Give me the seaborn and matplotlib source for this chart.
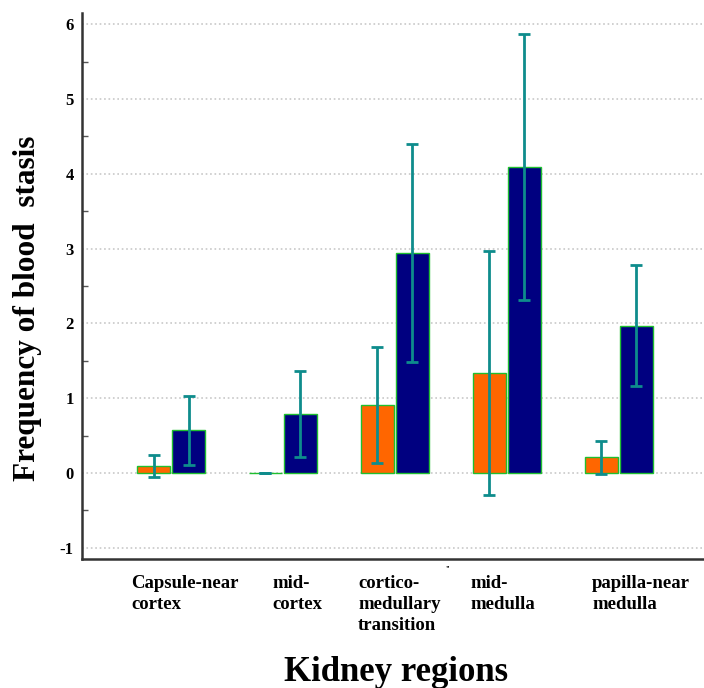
import numpy as np
import pandas as pd
import matplotlib.pyplot as plt
import seaborn as sns

# kidney regions (x categories) and tick label text
regions = ["Capsule-near cortex", "mid-cortex", "cortico-medullary transition",
           "mid-medulla", "papilla-near medulla"]
tick_labels = ["Capsule-near\ncortex", "mid-\ncortex", "cortico-\nmedullary\ntransition",
               "mid-\nmedulla", "papilla-near\nmedulla"]

# two groups (orange / navy), means and error half-widths
group_names = ["Group 1", "Group 2"]
mean_orange = [0.09, 0.0, 0.91, 1.34, 0.21]
err_orange = [0.15, 0.0, 0.78, 1.63, 0.22]
mean_navy = [0.57, 0.79, 2.94, 4.09, 1.97]
err_navy = [0.46, 0.58, 1.46, 1.78, 0.81]

df = pd.DataFrame({
    "region": regions * 2,
    "group": [group_names[0]] * len(regions) + [group_names[1]] * len(regions),
    "freq": mean_orange + mean_navy,
})
errs = [err_orange, err_navy]

sns.set_style("white")
plt.rcParams['font.family'] = ['Liberation Serif', 'DejaVu Serif']
plt.rcParams['font.weight'] = 'bold'
plt.rcParams['text.color'] = 'black'
plt.rcParams['axes.labelcolor'] = 'black'
plt.rcParams['ytick.color'] = 'black'

fig = plt.figure(figsize=(7.04, 6.88), dpi=100)
ax = fig.add_axes([82 / 704, 129 / 688, 622 / 704, 546 / 688])

sns.barplot(data=df, x="region", y="freq", hue="group", order=regions,
            hue_order=group_names, palette=["#FF6600", "#000080"], saturation=1,
            width=0.625, gap=0.06, errorbar=None, legend=False,
            edgecolor="#1FBF2F", linewidth=1.0, ax=ax, zorder=3)

# error bars placed at the bar centres that seaborn laid out
for cont, e in zip(ax.containers, errs):
    xs = [p.get_x() + p.get_width() / 2 for p in cont.patches]
    ys = [p.get_height() for p in cont.patches]
    ax.errorbar(xs, ys, yerr=e, fmt="none", ecolor="#0E8C8C", elinewidth=2.0,
                capsize=4.3, capthick=2.0, zorder=4)

ax.set_ylim(-1.15, 6.15)
ax.set_xlim(-0.795, 4.76)
ax.set_yticks(np.arange(-1, 7, 1))
ax.set_yticks(np.arange(-1, 6.5, 0.5), minor=True)
ax.set_yticklabels([str(v) for v in range(-1, 7)], fontsize=12, fontweight='bold')
ax.yaxis.grid(True, which='major', color="#C8C8C8", linestyle=":", linewidth=1.2, zorder=0)
ax.xaxis.grid(False)
ax.set_axisbelow(True)

for s in ["top", "right"]:
    ax.spines[s].set_visible(False)
for s in ["left", "bottom"]:
    ax.spines[s].set_color("#333333")
    ax.spines[s].set_linewidth(1.8)

ax.tick_params(axis='y', which='major', direction='in', length=7, width=1.6,
               color="#333333", labelcolor='black', pad=6)
ax.tick_params(axis='y', which='minor', direction='in', length=4, width=1.0,
               color="#555555", left=True)
ax.tick_params(axis='x', which='major', direction='in', length=6, width=1.6,
               color="#333333")
ax.set_xticks(range(len(regions)))
ax.set_xticklabels([""] * len(regions))

# tick labels sit left of the ticks, as in the original software output
label_shift = [-0.357, -0.098, -0.33, -0.33, -0.24]
trans = ax.get_xaxis_transform()
for i, (lab, dx) in enumerate(zip(tick_labels, label_shift)):
    ax.text(i + dx, -0.029, lab, transform=trans, ha='left', va='top',
            fontsize=13.5, fontweight='bold', linespacing=1.3, color='black')
ax.text(2.45, -0.012, "''", transform=trans, ha='left', va='top', fontsize=6)

ax.set_xlabel("Kidney regions", fontsize=25, fontweight='bold', va='baseline', color='black')
ax.xaxis.set_label_coords(0.505, -0.2234)
ax.set_ylabel("Frequency of blood  stasis", fontsize=22.5, fontweight='bold',
              va='center', color='black')
ax.yaxis.set_label_coords(-0.088, 0.46)

plt.savefig("out.png", dpi=100)
